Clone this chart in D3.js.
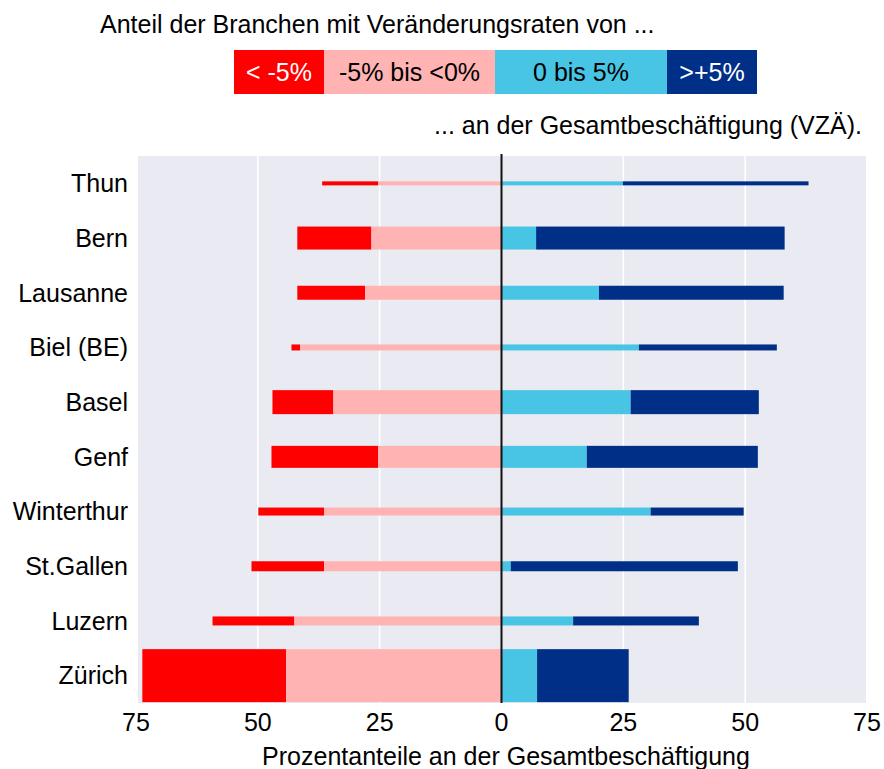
<!DOCTYPE html>
<html>
<head>
<meta charset="utf-8">
<script src="https://cdn.jsdelivr.net/npm/d3@7"></script>
<style>
  body { margin: 0; background: #fff; }
  svg text { font-family: "Liberation Sans", Arial, sans-serif; fill: #000; }
</style>
</head>
<body>
<svg id="chart" width="884" height="769"></svg>
<script>
// Städte von oben nach unten
const staedte = ["Thun", "Bern", "Lausanne", "Biel (BE)", "Basel", "Genf", "Winterthur", "St.Gallen", "Luzern", "Zürich"]

// Anteile an der Gesamtbeschäftigung (%) je Klasse
const unterMinus5 = [11.5, 15.2, 13.9, 1.8, 12.5, 21.9, 13.5, 14.9, 16.8, 29.5]
const minus5bis0 = [25.3, 26.7, 28.0, 41.3, 34.5, 25.3, 36.4, 36.4, 42.5, 44.2]
const null0bis5 = [24.9, 7.1, 20.0, 28.2, 26.5, 17.5, 30.6, 1.9, 14.7, 7.3]
const ueberPlus5 = [38.1, 51.0, 37.9, 28.3, 26.3, 35.1, 19.1, 46.6, 25.8, 18.8]

// relative Grösse der Städte (Balkendicke)
const gewicht = [4, 23, 14, 6, 24, 22, 8, 10, 9, 53]

const klassen = ["< -5%", "-5% bis <0%", "0 bis 5%", ">+5%"]
const farben = ["#ff0000", "#ffb3b3", "#48c4e4", "#002f87"]
const textFarben = ["#fff", "#000", "#000", "#fff"]
const ticks = [-75, -50, -25, 0, 25, 50, 75]

const svg = d3.select("#chart")

const x = d3.scaleLinear().domain([-75, 75]).range([136, 867])
const y = d3.scaleBand().domain(staedte).range([156, 703]).padding(0)
const dicke = d3.scaleLinear().domain([0, d3.max(gewicht)]).range([0, 53])

// Hintergrund
svg.append("rect")
    .attr("x", 138).attr("y", 156)
    .attr("width", 866 - 138).attr("height", 703 - 156)
    .attr("fill", "#eaeaf2")

// Gitterlinien
svg.append("g")
    .selectAll("line")
    .data(ticks.filter(t => Math.abs(t) < 75 && t !== 0))
    .enter()
    .append("line")
        .attr("x1", d => x(d)).attr("x2", d => x(d))
        .attr("y1", 156).attr("y2", 703)
        .attr("stroke", "#fff")
        .attr("stroke-width", 1.6)

// Segmente bauen: [start, ende, klasse]
const segmente = []
staedte.forEach((s, i) => {
    const a = minus5bis0[i], b = unterMinus5[i], c = null0bis5[i], d = ueberPlus5[i]
    segmente.push({ stadt: s, i, x0: -a - b, x1: -a, k: 0 })
    segmente.push({ stadt: s, i, x0: -a, x1: 0, k: 1 })
    segmente.push({ stadt: s, i, x0: 0, x1: c, k: 2 })
    segmente.push({ stadt: s, i, x0: c, x1: c + d, k: 3 })
})

svg.append("g")
    .selectAll("rect")
    .data(segmente)
    .enter()
    .append("rect")
        .attr("x", d => x(d.x0))
        .attr("width", d => x(d.x1) - x(d.x0))
        .attr("y", d => y(d.stadt) + y.bandwidth() / 2 - dicke(gewicht[d.i]) / 2)
        .attr("height", d => dicke(gewicht[d.i]))
        .attr("fill", d => farben[d.k])

// Nulllinie
svg.append("line")
    .attr("x1", x(0)).attr("x2", x(0))
    .attr("y1", 154).attr("y2", 703)
    .attr("stroke", "#111")
    .attr("stroke-width", 2)

// Städtenamen
svg.append("g")
    .selectAll("text")
    .data(staedte)
    .enter()
    .append("text")
        .attr("x", 128)
        .attr("y", d => y(d) + y.bandwidth() / 2)
        .attr("dy", "0.35em")
        .attr("text-anchor", "end")
        .style("font-size", "25px")
        .text(d => d)

// x-Achse
svg.append("g")
    .selectAll("text")
    .data(ticks)
    .enter()
    .append("text")
        .attr("x", d => x(d))
        .attr("y", 731)
        .attr("text-anchor", "middle")
        .style("font-size", "25px")
        .text(d => Math.abs(d))

svg.append("text")
    .attr("x", 506).attr("y", 765)
    .attr("text-anchor", "middle")
    .style("font-size", "25px")
    .text("Prozentanteile an der Gesamtbeschäftigung")

// Legende
svg.append("text")
    .attr("x", 100).attr("y", 33)
    .style("font-size", "25px")
    .text("Anteil der Branchen mit Veränderungsraten von ...")

const legX = [234, 324, 495, 667, 757]
const leg = svg.append("g")
klassen.forEach((k, i) => {
    leg.append("rect")
        .attr("x", legX[i]).attr("y", 50)
        .attr("width", legX[i + 1] - legX[i]).attr("height", 44)
        .attr("fill", farben[i])
    leg.append("text")
        .attr("x", (legX[i] + legX[i + 1]) / 2).attr("y", 81)
        .attr("text-anchor", "middle")
        .style("font-size", "25px")
        .style("fill", textFarben[i])
        .text(k)
})

svg.append("text")
    .attr("x", 862).attr("y", 134)
    .attr("text-anchor", "end")
    .style("font-size", "25px")
    .text("... an der Gesamtbeschäftigung (VZÄ).")
</script>
</body>
</html>
